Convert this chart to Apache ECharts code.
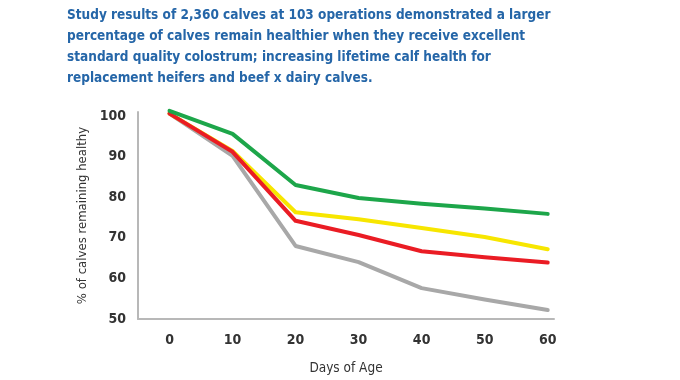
<!DOCTYPE html>
<html><head><meta charset="utf-8">
<script src="https://cdn.jsdelivr.net/npm/echarts@6/dist/echarts.min.js"></script>
<style>html,body{margin:0;padding:0;background:#fff}#c{width:680px;height:380px}</style>
</head><body><div id="c"></div>
<script>
var days = [0, 10, 20, 30, 40, 50, 60];
var xTicks = [0, 10, 20, 30, 40, 50, 60];
var yTicks = [50, 60, 70, 80, 90, 100];
var greenVals = [101.3, 95.6, 83.0, 79.8, 78.4, 77.2, 75.9];
var yellowVals = [100.6, 91.4, 76.3, 74.6, 72.4, 70.2, 67.2];
var redVals = [100.6, 91.2, 74.2, 70.7, 66.7, 65.2, 63.9];
var grayVals = [100.6, 90.2, 68.0, 64.0, 57.6, 54.8, 52.2];
var titleLines = [
  'Study results of 2,360 calves at 103 operations demonstrated a larger',
  'percentage of calves remain healthier when they receive excellent',
  'standard quality colostrum; increasing lifetime calf health for',
  'replacement heifers and beef x dairy calves.'
];
function pairs(v){ return days.map(function(d,i){ return [d, v[i]]; }); }
var font = '"DejaVu Sans Condensed", "Roboto", sans-serif';
var chart = echarts.init(document.getElementById('c'));
function line(name, vals, color, z){
  return {name:name, type:'line', data:pairs(vals), symbol:'none', clip:false, z:z,
    lineStyle:{color:color, width:4, join:'round', cap:'round'}};
}
chart.setOption({
  animation:false,
  title:{text:titleLines.join('\n'), left:62, top:0,
    textStyle:{color:'#2566a8', fontFamily:font, fontWeight:'bold', fontSize:13.5, lineHeight:21}},
  grid:{left:138, right:126, top:112, bottom:56},
  xAxis:{type:'value', min:-5, max:61,
    axisLine:{show:true, onZero:false, lineStyle:{color:'#b8b8b8', width:2}},
    axisTick:{show:false}, splitLine:{show:false},
    axisLabel:{customValues:xTicks, color:'#333', fontFamily:font, fontWeight:'bold', fontSize:14, margin:14},
    name:'Days of Age', nameLocation:'middle', nameGap:42,
    nameTextStyle:{color:'#333', fontFamily:font, fontSize:13.5}},
  yAxis:{type:'value', min:50, max:101,
    axisLine:{show:true, onZero:false, lineStyle:{color:'#b8b8b8', width:2}},
    axisTick:{show:false}, splitLine:{show:false},
    axisLabel:{customValues:yTicks, color:'#333', fontFamily:font, fontWeight:'bold', fontSize:14, margin:12},
    name:'% of calves remaining healthy', nameLocation:'middle', nameGap:46,
    nameTextStyle:{color:'#333', fontFamily:font, fontSize:13}},
  series:[
    line('Gray', grayVals, '#a8a8a8', 1),
    line('Yellow', yellowVals, '#f7e600', 2),
    line('Red', redVals, '#ea1c24', 3),
    line('Green', greenVals, '#1da64a', 4)
  ]
});
</script></body></html>
